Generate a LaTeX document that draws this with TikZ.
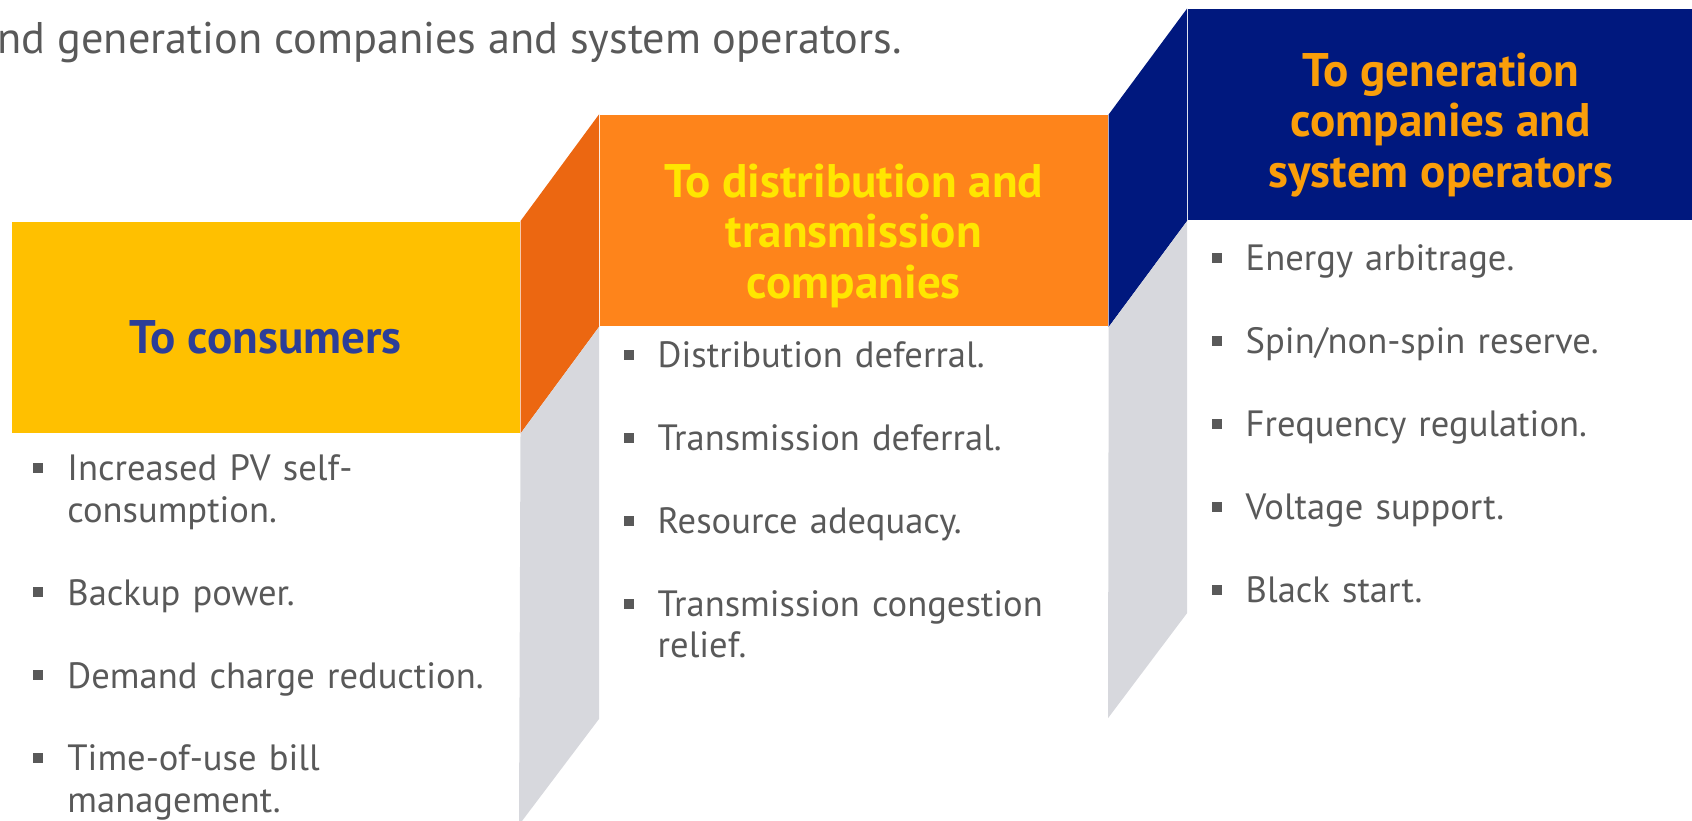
\documentclass[tikz,border=0pt]{standalone}
\usepackage{fontspec}
\setmainfont{PT Sans}
\usepackage{enumitem}
\definecolor{consyellow}{RGB}{255,192,0}
\definecolor{consblue}{RGB}{44,62,152}
\definecolor{distorange}{RGB}{254,132,27}
\definecolor{distside}{RGB}{236,103,17}
\definecolor{distyellow}{RGB}{255,230,0}
\definecolor{gennavy}{RGB}{0,24,126}
\definecolor{genorange}{RGB}{250,158,10}
\definecolor{facegray}{RGB}{215,216,221}
\definecolor{bodygray}{RGB}{89,89,89}
\setlist[itemize]{label={\raisebox{2.3pt}{\rule{2.8pt}{2.8pt}}},align=left,labelwidth=2.8pt,leftmargin=0.34cm,labelsep=0.241cm,itemsep=11.9pt,parsep=0pt,topsep=0pt,partopsep=0pt}

\begin{document}
\begin{tikzpicture}[x=0.01cm,y=-0.01cm,
    box/.style={anchor=north west,inner sep=0pt,minimum width=5.08cm,minimum height=2.11cm},
    head/.style={inner sep=0pt,align=center,font=\bfseries\fontsize{13.4}{14.4}\selectfont},
    items/.style={anchor=north west,inner sep=0pt,text width=4.8cm,text=bodygray,font=\fontsize{10.4}{11.7}\selectfont}]
    \useasboundingbox (0,0) rectangle (1692,820);
    \clip (0,0) rectangle (1692,820);

    \node[anchor=base west,inner sep=0pt,text=bodygray,font=\fontsize{12.6}{15}\selectfont] (intro) at (-3,53) {nd generation companies and system operators.};

    \node[box,fill=consyellow] (consumers) at (10.8,221) {};
    \node[box,fill=distorange] (distrib) at (599,114.4) {};
    \node[box,fill=gennavy,minimum width=5.06cm] (gencos) at (1187,8.6) {};

    \node[head,text=consblue] (conshead) at ([yshift=-0.1cm]consumers.center) {To consumers};
    \node[head,text=distyellow] (disthead) at ([yshift=-0.15cm]distrib.center) {To distribution and\\transmission\\companies};
    \node[head,text=genorange] (genhead) at ([yshift=-0.1cm]gencos.center) {To generation\\companies and\\system operators};

    \fill[distside] (consumers.north east) -- (distrib.north west) -- (distrib.south west) -- (consumers.south east) -- cycle;
    \fill[gennavy] (distrib.north east) -- (gencos.north west) -- (gencos.south west) -- (distrib.south east) -- cycle;
    \fill[facegray] (consumers.south east) -- (distrib.south west) -- ++(0,392) -- ++(-80,106) -- cycle;
    \fill[facegray] (distrib.south east) -- (gencos.south west) -- ++(0,392) -- ++(-79,105) -- cycle;

    \node[items] (consitems) at (32.7,439) {\begin{itemize}
        \item Increased PV self-\\consumption.
        \item Backup power.
        \item Demand charge reduction.
        \item Time-of-use bill\\management.
    \end{itemize}};
    \node[items] (distitems) at (623,326) {\begin{itemize}
        \item Distribution deferral.
        \item Transmission deferral.
        \item Resource adequacy.
        \item Transmission congestion\\relief.
    \end{itemize}};
    \node[items] (genitems) at (1211,229) {\begin{itemize}
        \item Energy arbitrage.
        \item Spin/non-spin reserve.
        \item Frequency regulation.
        \item Voltage support.
        \item Black start.
    \end{itemize}};
\end{tikzpicture}
\end{document}
